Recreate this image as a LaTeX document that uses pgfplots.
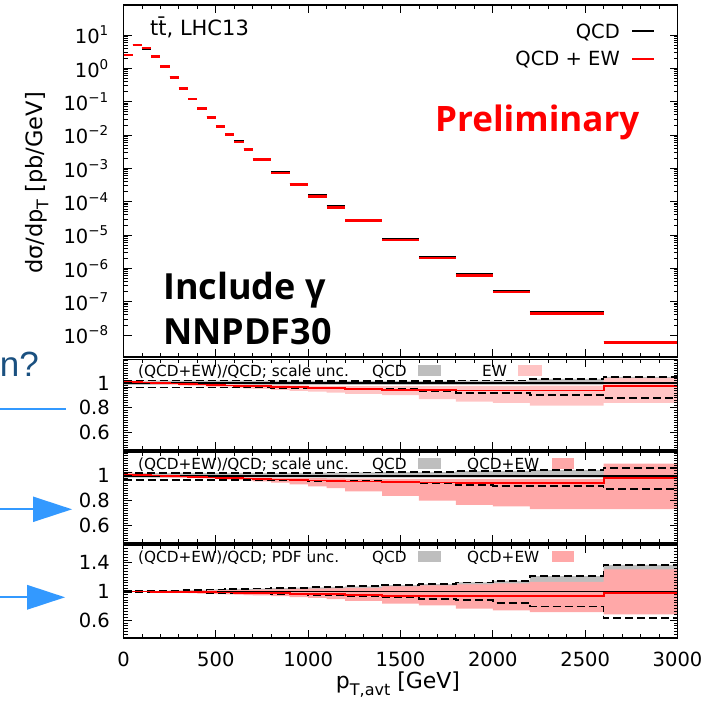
\documentclass[border=0pt]{standalone}
\usepackage{fontspec}
\setmainfont{DejaVu Sans}
\newfontfamily\osb{Open Sans}
\newfontfamily\lib{Liberation Sans}
\usepackage{pgfplots}
\pgfplotsset{compat=1.18}
\usepgfplotslibrary{fillbetween}
\usepackage{pgfplotstable}
\definecolor{pinkL}{RGB}{255,196,196}
\definecolor{pinkD}{RGB}{255,168,168}
\definecolor{grayb}{RGB}{190,190,190}
\definecolor{arrowblue}{RGB}{51,153,255}
\definecolor{slideblue}{RGB}{26,80,128}
\newcommand\fs[1]{\fontsize{#1}{#1}\selectfont}
\newcommand\tp[1]{10\raisebox{0.42em}{\fs{13.5}#1}}

\pgfplotstableread{
x qcd ew
0 2.51 2.54
50 5.0 5.04
100 4.0 4.02
150 2.24 2.245
200 1.12 1.12
250 0.525 0.523
300 0.25 0.2485
350 0.12 0.119
400 0.063 0.0623
450 0.034 0.0335
500 0.0186 0.0183
550 0.0105 0.0103
600 0.0063 0.00617
650 0.0037 0.00361
700 0.00186 0.00181
800 7.4e-4 7.18e-4
900 3.4e-4 3.28e-4
1000 1.5e-4 1.44e-4
1100 7.1e-5 6.8e-5
1200 2.8e-5 2.67e-5
1400 7.4e-6 6.99e-6
1600 2.14e-6 2.02e-6
1800 6.6e-7 6.2e-7
2000 2.1e-7 1.97e-7
2200 4.8e-8 4.51e-8
2600 6.0e-9 5.87e-9
3000 6.0e-9 5.87e-9
}\maintab

\pgfplotstableread{
x qup glo pup plo red qlo
0 1.020 0.985 1.020 1.000 1.012 0.965
50 1.020 0.985 1.016 0.996 1.008 0.965
100 1.020 0.985 1.013 0.993 1.005 0.965
150 1.020 0.985 1.010 0.990 1.002 0.965
200 1.020 0.985 1.008 0.987 1.000 0.965
250 1.020 0.985 1.005 0.984 0.997 0.965
300 1.020 0.985 1.002 0.980 0.994 0.965
350 1.020 0.985 1.000 0.977 0.991 0.965
400 1.020 0.985 0.998 0.974 0.989 0.965
450 1.020 0.985 0.996 0.970 0.986 0.965
500 1.020 0.985 0.994 0.967 0.984 0.965
550 1.020 0.985 0.992 0.963 0.981 0.965
600 1.020 0.985 0.990 0.960 0.979 0.965
650 1.020 0.985 0.988 0.956 0.977 0.964
700 1.020 0.985 0.986 0.952 0.974 0.963
800 1.019 0.985 0.984 0.945 0.970 0.962
900 1.018 0.985 0.982 0.937 0.966 0.960
1000 1.017 0.985 0.980 0.930 0.962 0.958
1100 1.016 0.985 0.978 0.922 0.958 0.956
1200 1.015 0.985 0.976 0.912 0.952 0.953
1400 1.015 0.985 0.975 0.903 0.945 0.950
1600 1.015 0.985 0.975 0.870 0.942 0.931
1800 1.020 0.985 0.978 0.850 0.940 0.917
2000 1.020 0.985 0.978 0.840 0.940 0.917
2200 1.033 0.985 0.980 0.817 0.940 0.903
2600 1.050 0.985 1.040 0.840 0.978 0.881
3000 1.050 0.985 1.040 0.840 0.978 0.881
}\ponetab

\pgfplotstableread{
x qup glo pup plo red qlo
0 1.025 0.985 1.030 0.995 1.008 0.968
50 1.022 0.985 1.015 0.993 1.005 0.968
100 1.022 0.985 1.010 0.991 1.003 0.968
150 1.022 0.985 1.008 0.989 1.001 0.968
200 1.022 0.985 1.005 0.987 0.999 0.968
250 1.022 0.985 1.003 0.985 0.997 0.968
300 1.022 0.985 1.000 0.983 0.994 0.967
350 1.022 0.985 0.998 0.980 0.991 0.967
400 1.022 0.985 0.996 0.978 0.989 0.967
450 1.022 0.985 0.994 0.976 0.986 0.967
500 1.022 0.985 0.992 0.973 0.984 0.966
550 1.022 0.985 0.990 0.969 0.981 0.966
600 1.022 0.985 0.988 0.965 0.979 0.965
650 1.022 0.985 0.986 0.960 0.977 0.965
700 1.022 0.985 0.985 0.955 0.974 0.964
800 1.022 0.985 0.983 0.945 0.970 0.963
900 1.023 0.985 0.981 0.930 0.966 0.961
1000 1.024 0.985 0.980 0.915 0.962 0.959
1100 1.025 0.985 0.978 0.900 0.958 0.957
1200 1.026 0.985 0.976 0.875 0.954 0.955
1400 1.028 0.985 0.975 0.837 0.950 0.953
1600 1.028 0.985 0.975 0.800 0.945 0.940
1800 1.036 0.985 0.975 0.765 0.942 0.926
2000 1.036 0.985 0.975 0.754 0.940 0.920
2200 1.045 0.985 0.975 0.732 0.940 0.920
2600 1.064 0.985 1.097 0.732 0.980 0.892
3000 1.064 0.985 1.097 0.732 0.980 0.892
}\ptwotab

\pgfplotstableread{
x qup glo pup plo red qlo
0 1.003 1.0 1.002 0.998 1.000 0.997
50 1.005 1.0 1.003 0.996 1.000 0.996
100 1.007 1.0 1.004 0.994 0.999 0.995
150 1.009 1.0 1.005 0.991 0.998 0.993
200 1.011 1.0 1.006 0.988 0.997 0.992
250 1.014 1.0 1.008 0.984 0.996 0.990
300 1.017 1.0 1.010 0.980 0.995 0.988
350 1.020 1.0 1.012 0.976 0.993 0.986
400 1.023 1.0 1.014 0.972 0.991 0.984
450 1.026 1.0 1.016 0.968 0.989 0.982
500 1.029 1.0 1.018 0.964 0.987 0.980
550 1.032 1.0 1.020 0.960 0.985 0.978
600 1.035 1.0 1.022 0.955 0.983 0.976
650 1.038 1.0 1.024 0.950 0.981 0.974
700 1.041 1.0 1.026 0.945 0.979 0.972
800 1.047 1.0 1.030 0.935 0.975 0.968
900 1.053 1.0 1.035 0.922 0.970 0.962
1000 1.058 1.0 1.040 0.910 0.965 0.955
1100 1.064 1.0 1.045 0.895 0.960 0.948
1200 1.072 1.0 1.052 0.870 0.950 0.940
1400 1.089 1.0 1.070 0.830 0.940 0.924
1600 1.103 1.0 1.085 0.806 0.936 0.900
1800 1.127 1.0 1.100 0.760 0.934 0.877
2000 1.150 1.0 1.113 0.736 0.934 0.844
2200 1.216 1.0 1.136 0.712 0.934 0.792
2600 1.371 1.0 1.310 0.680 0.980 0.633
3000 1.371 1.0 1.310 0.680 0.980 0.633
}\pthreetab

\pgfplotsset{
  myframe/.style={
    scale only axis, width=554pt, anchor=south west,
    xmin=0, xmax=3000,
    xtick={0,500,1000,1500,2000,2500,3000}, minor x tick num=4,
    axis line style={line width=1.5pt},
    tick style={line width=0.9pt, black},
    major tick length=8pt, minor tick length=4pt,
    axis on top,
  },
  rpanel/.style={myframe, xticklabels={},
    yticklabel style={inner sep=0pt, xshift=-13.5pt, font=\fs{19.5}}},
  dashl/.style={black, line width=1.7pt, dash pattern=on 8pt off 4pt, const plot},
}

\newcommand\ratioplots[2]{%
  \addplot[name path=gu, const plot, draw=none] table[x=x,y=qup]{#1};
  \addplot[name path=gl, const plot, draw=none] table[x=x,y=glo]{#1};
  \addplot[fill=grayb, draw=none] fill between[of=gu and gl];
  \addplot[name path=pu, const plot, draw=none] table[x=x,y=pup]{#1};
  \addplot[name path=pl, const plot, draw=none] table[x=x,y=plo]{#1};
  \addplot[fill=#2, draw=none] fill between[of=pu and pl];
  \addplot[dashl] table[x=x,y=qup]{#1};
  \addplot[dashl] table[x=x,y=qlo]{#1};
  \addplot[black, line width=1.8pt] coordinates {(0,1) (3000,1)};
  \addplot[red, line width=1.8pt, const plot] table[x=x,y=red]{#1};
}

\begin{document}
\begin{tikzpicture}

% main panel
\begin{axis}[myframe, at={(123.5pt,354pt)}, height=352pt, xticklabels={},
  ymode=log, ymin=2.19e-9, ymax=79.4,
  ytick={1e-8,1e-7,1e-6,1e-5,1e-4,1e-3,1e-2,1e-1,1,10},
  yticklabels={\tp{−8},\tp{−7},\tp{−6},\tp{−5},\tp{−4},\tp{−3},\tp{−2},\tp{−1},\tp{0},\tp{1}},
  yticklabel style={inner sep=0pt, xshift=-15pt, font=\fs{19.5}}]
\addplot[black, line width=2.6pt, jump mark left] table[x=x,y=qcd]{\maintab};
\addplot[red, line width=2.6pt, jump mark left] table[x=x,y=ew]{\maintab};
\end{axis}

% ratio panel 1
\begin{axis}[rpanel, at={(123.5pt,261pt)}, height=90.5pt, ymin=0.46, ymax=1.19,
  ytick={0.6,0.8,1}, yticklabels={0.6,0.8,1},
  minor ytick={0.46,0.48,...,1.19}]
\ratioplots{\ponetab}{pinkL}
\end{axis}

% ratio panel 2
\begin{axis}[rpanel, at={(123.5pt,168pt)}, height=91pt, ymin=0.46, ymax=1.19,
  ytick={0.6,0.8,1}, yticklabels={0.6,0.8,1},
  minor ytick={0.46,0.48,...,1.19}]
\ratioplots{\ptwotab}{pinkD}
\end{axis}

% ratio panel 3
\begin{axis}[rpanel, at={(123.5pt,73pt)}, height=93pt, ymin=0.35, ymax=1.65,
  ytick={0.6,1,1.4}, yticklabels={0.6,1,1.4},
  minor ytick={0.36,0.40,...,1.65},
  xticklabels={0,500,1000,1500,2000,2500,3000},
  xticklabel style={inner sep=0pt, yshift=-13.5pt, font=\fs{19.5}}]
\ratioplots{\pthreetab}{pinkD}
\end{axis}

\begin{scope}[x=1pt,y=1pt]
% texts in main panel
\node[anchor=base west, inner sep=0pt, font=\fs{21}] at (150,675) {t\=t, LHC13};
\node[anchor=base east, inner sep=0pt, font=\fs{19.5}] at (620,672) {QCD};
\node[anchor=base east, inner sep=0pt, font=\fs{19.5}] at (620,645) {QCD + EW};
\draw[black, line width=2pt] (632,679.5) -- (654,679.5);
\draw[red, line width=2pt] (632,651.7) -- (654,651.7);
\node[anchor=base west, inner sep=0pt, text=red, font=\osb\bfseries\fs{35}] at (435,579.3) {Preliminary};
\node[anchor=base west, inner sep=0pt, font=\osb\bfseries\fs{36}] at (163,411) {Include γ};
\node[anchor=base west, inner sep=0pt, font=\osb\bfseries\fs{36}] at (163,366) {NNPDF30};

% axis labels
\node[rotate=90, inner sep=0pt, font=\fs{22.5}] at (37,528) {dσ/dp\raisebox{-0.25em}{\fs{16}T} [pb/GeV]};
\node[anchor=base, inner sep=0pt, font=\fs{22}] at (398,22) {p\raisebox{-0.28em}{\fs{16}T,avt} [GeV]};

% ratio panel legends
\node[anchor=base west, inner sep=0pt, font=\fs{15.3}] at (138,334) {(QCD+EW)/QCD; scale unc.};
\node[anchor=base west, inner sep=0pt, font=\fs{15.3}] at (372,334) {QCD};
\fill[grayb] (418,335) rectangle (441,346);
\node[anchor=base west, inner sep=0pt, font=\fs{15.3}] at (482,334) {EW};
\fill[pinkL] (518,335) rectangle (542,346);

\node[anchor=base west, inner sep=0pt, font=\fs{15.3}] at (138,241.5) {(QCD+EW)/QCD; scale unc.};
\node[anchor=base west, inner sep=0pt, font=\fs{15.3}] at (372,241.5) {QCD};
\fill[grayb] (418,242) rectangle (441,253);
\node[anchor=base west, inner sep=0pt, font=\fs{15.3}] at (467,241.5) {QCD+EW};
\fill[pinkD] (552,242) rectangle (574,253);

\node[anchor=base west, inner sep=0pt, font=\fs{15.3}] at (138,148.5) {(QCD+EW)/QCD; PDF unc.};
\node[anchor=base west, inner sep=0pt, font=\fs{15.3}] at (372,148.5) {QCD};
\fill[grayb] (418,149) rectangle (441,160);
\node[anchor=base west, inner sep=0pt, font=\fs{15.3}] at (467,148.5) {QCD+EW};
\fill[pinkD] (552,149) rectangle (574,160);

% slide fragments on the left
\node[anchor=base east, inner sep=0pt, text=slideblue, font=\lib\fs{35}] at (39,334.3) {n?};
\draw[arrowblue, line width=2pt] (0,302) -- (66,302);
\draw[arrowblue, line width=2pt] (0,201.7) -- (40,201.7);
\fill[arrowblue] (33,214.5) -- (72,201.7) -- (33,188.9) -- cycle;
\draw[arrowblue, line width=2pt] (0,113.7) -- (30,113.7);
\fill[arrowblue] (27,126.2) -- (65,113.7) -- (27,101.2) -- cycle;

\pgfresetboundingbox
\useasboundingbox (0,0) rectangle (719,711);
\end{scope}
\end{tikzpicture}
\end{document}
